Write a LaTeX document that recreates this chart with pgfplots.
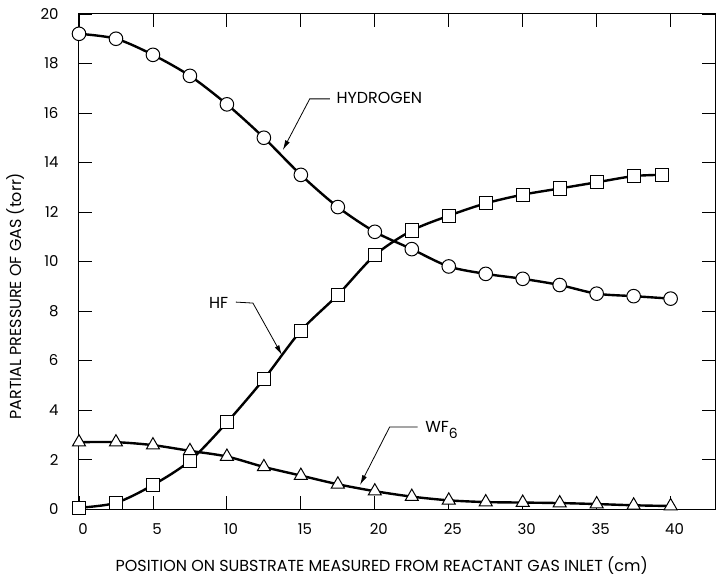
\documentclass[border=0pt]{standalone}
\usepackage{fontspec}
\setmainfont{Poppins}
\usepackage{pgfplots}
\usetikzlibrary{arrows.meta}
\pgfplotsset{compat=1.18}
\begin{document}
\begin{tikzpicture}
\path[use as bounding box] (-79bp,-69bp) rectangle (640bp,509bp);
\begin{axis}[
  at={(0,0)}, anchor=south west,
  scale only axis, width=636bp, height=495bp,
  xmin=0, xmax=43, ymin=0, ymax=20,
  xtick={0,5,...,40}, ytick={0,2,...,20},
  tick align=inside, major tick length=13bp,
  axis line style={line width=1bp},
  every tick/.style={black, line width=0.9bp},
  /pgf/number format/assume math mode=true,
  tick label style={font=\fontsize{15}{17}\selectfont},
  xticklabel style={yshift=-11bp, xshift=4bp},
  yticklabel style={xshift=-17bp},
  label style={font=\fontsize{16}{18}\selectfont},
  xlabel={POSITION ON SUBSTRATE MEASURED FROM REACTANT GAS INLET (cm)},
  ylabel={PARTIAL PRESSURE OF GAS (torr)},
  xlabel style={at={(axis description cs:0.476,-0.115)}, anchor=center},
  ylabel style={at={(axis description cs:-0.1,0.43)}, anchor=center},
  clip=false,
]
% HYDROGEN
\addplot[black, line width=2.4bp, smooth, mark=*, mark size=6.8bp,
  mark options={fill=white, draw=black, line width=1bp, solid}] coordinates {
  (0,19.2) (2.5,19.0) (5,18.35) (7.5,17.5) (10,16.35) (12.5,15.0) (15,13.5)
  (17.5,12.2) (20,11.2) (22.5,10.5) (25,9.8) (27.5,9.5) (30,9.3) (32.5,9.05)
  (35,8.7) (37.5,8.6) (40,8.5)};
% HF
\addplot[black, line width=2.4bp, smooth, mark=square*, mark size=6.6bp,
  mark options={fill=white, draw=black, line width=1bp, solid}] coordinates {
  (0,0.05) (2.5,0.25) (5,0.97) (7.5,1.95) (10,3.5) (12.5,5.25) (15,7.2)
  (17.5,8.65) (20,10.25) (22.5,11.25) (25,11.85) (27.5,12.35) (30,12.7)
  (32.5,12.95) (35,13.2) (37.5,13.45) (39.4,13.5)};
% WF6
\addplot[black, line width=2.4bp, smooth, mark=triangle*, mark size=7.5bp,
  mark options={fill=white, draw=black, line width=1bp, solid}] coordinates {
  (0,2.7) (2.5,2.7) (5,2.58) (7.5,2.35) (10,2.12) (12.5,1.7) (15,1.35)
  (17.5,1.0) (20,0.72) (22.5,0.5) (25,0.35) (27.5,0.28) (30,0.26)
  (32.5,0.24) (35,0.2) (37.5,0.15) (40,0.12)};
% annotations
\draw[line width=0.8bp, -{Latex[length=10bp,width=5bp]}] (axis cs:16.96,16.57) -- (axis cs:15.6,16.57) -- (axis cs:13.78,14.5);
\node[anchor=west, inner sep=0pt, font=\fontsize{16}{18}\selectfont] at (axis cs:17.4,16.6) {HYDROGEN};
\draw[line width=0.8bp, -{Latex[length=10bp,width=5bp]}] (axis cs:10.6,8.36) -- (axis cs:11.76,8.32) -- (axis cs:13.72,6.22);
\node[anchor=east, inner sep=0pt, font=\fontsize{16}{18}\selectfont] at (axis cs:10.1,8.32) {HF};
\draw[line width=0.8bp, -{Latex[length=10bp,width=5bp]}] (axis cs:22.9,3.31) -- (axis cs:21.0,3.31) -- (axis cs:19.0,0.97);
\node[anchor=west, inner sep=0pt, font=\fontsize{16}{18}\selectfont] at (axis cs:23.4,3.2) {WF\raisebox{-6bp}{\fontsize{14}{16}\selectfont 6}};
\end{axis}
\end{tikzpicture}
\end{document}
